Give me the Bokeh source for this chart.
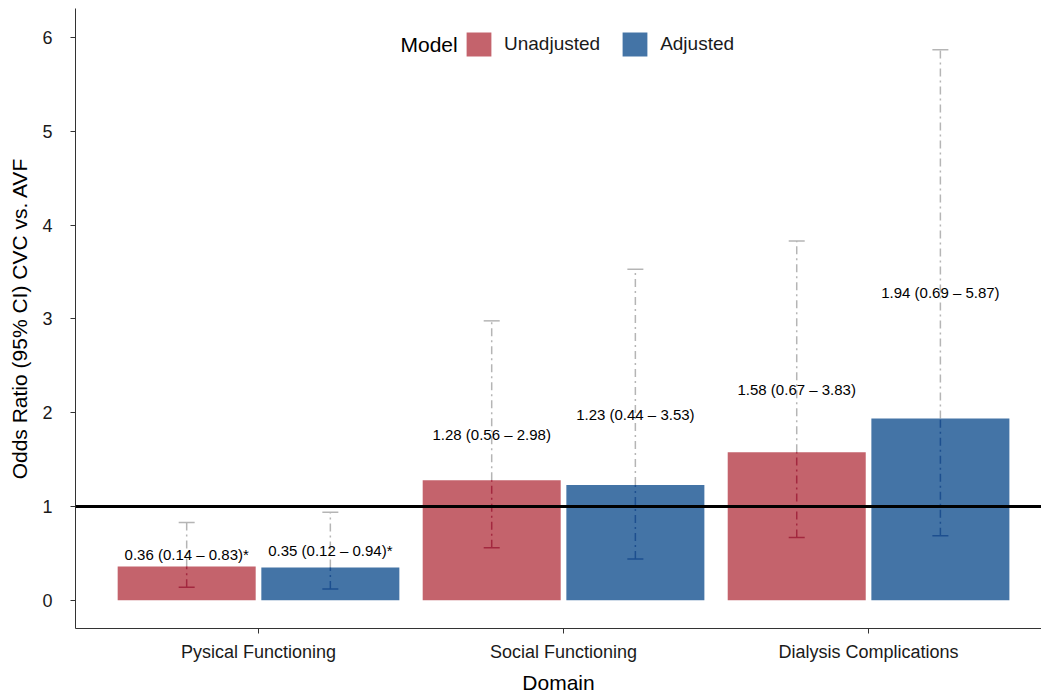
from bokeh.plotting import figure
from bokeh.models import (ColumnDataSource, Range1d, FixedTicker, Span,
                          Whisker, TeeHead, Legend, LegendItem, Label)
from bokeh.core.properties import value
from bokeh.embed import file_html
from bokeh.resources import INLINE

# ---- data ----
domains = ["Pysical Functioning", "Social Functioning", "Dialysis Complications"]
unadj_or = [0.36, 1.28, 1.58]
unadj_lo = [0.14, 0.56, 0.67]
unadj_hi = [0.83, 2.98, 3.83]
adj_or = [0.35, 1.23, 1.94]
adj_lo = [0.12, 0.44, 0.69]
adj_hi = [0.94, 3.53, 5.87]
y_ticks = [0, 1, 2, 3, 4, 5, 6]

FONT = "Liberation Sans"
RED, BLUE = "#c4636c", "#4474a6"
RED_D, BLUE_D = "#a3283f", "#1d4f8f"
GRAY = "#b5b5b5"
OFF, BW = 0.2355, 0.4525
DASH = "8 4 2 4"

xpos = list(range(1, len(domains) + 1))


def make_src(orv, lo, hi, off):
    labels = [f"{o:.2f} ({l:.2f} \u2013 {h:.2f})" + ("*" if h < 1 else "")
              for o, l, h in zip(orv, lo, hi)]
    return ColumnDataSource(dict(
        x=[x + off for x in xpos], orv=orv, lo=lo, hi=hi,
        top_part=[max(o, l) for o, l in zip(orv, lo)],
        bot_part=[min(o, h) for o, h in zip(orv, hi)],
        mid=[(l + h) / 2 for l, h in zip(lo, hi)],
        label=labels))


src_u = make_src(unadj_or, unadj_lo, unadj_hi, -OFF)
src_a = make_src(adj_or, adj_lo, adj_hi, OFF)

p = figure(width=1041, height=696, output_backend="svg", toolbar_location=None,
           x_range=Range1d(0.4, 3.567), y_range=Range1d(-0.30, 6.31),
           min_border_left=75, min_border_right=0, min_border_top=8, min_border_bottom=68)
p.outline_line_color = None
p.xgrid.visible = False
p.ygrid.visible = False
p.background_fill_color = "white"

r_u = p.vbar(x="x", top="orv", bottom=0, width=BW, source=src_u,
             fill_color=RED, line_color=None)
r_a = p.vbar(x="x", top="orv", bottom=0, width=BW, source=src_a,
             fill_color=BLUE, line_color=None)

for src, dark in [(src_u, RED_D), (src_a, BLUE_D)]:
    # part of the CI inside the bar
    p.add_layout(Whisker(source=src, base="x", lower="lo", upper="bot_part",
                         line_color=dark, line_width=1.5, line_dash=DASH,
                         upper_head=None, level="overlay",
                         lower_head=TeeHead(size=16, line_color=dark, line_width=1.5)))
    # part of the CI above the bar
    p.add_layout(Whisker(source=src, base="x", lower="top_part", upper="hi",
                         line_color=GRAY, line_width=1.5, line_dash=DASH,
                         lower_head=None, level="underlay",
                         upper_head=TeeHead(size=16, line_color=GRAY, line_width=1.5)))

p.add_layout(Span(location=1, dimension="width", line_color="black", line_width=3,
                  level="overlay"))

for src in (src_u, src_a):
    p.text(x="x", y="mid", text="label", source=src,
           text_font=value(FONT), text_font_size="15px", text_color="black",
           text_align="center", text_baseline="middle")

# axes
for ax in (p.xaxis[0], p.yaxis[0]):
    ax.axis_line_color = "#333333"
    ax.axis_line_width = 1
    ax.major_tick_line_color = "#333333"
    ax.major_tick_out = 5
    ax.major_tick_in = 0
    ax.minor_tick_line_color = None
    ax.major_label_text_font = FONT
    ax.major_label_text_font_size = "18px"
    ax.major_label_text_color = "#1a1a1a"
    ax.axis_label_text_font = FONT
    ax.axis_label_text_font_size = "21px"
    ax.axis_label_text_font_style = "normal"
    ax.axis_label_text_color = "black"

p.yaxis.ticker = FixedTicker(ticks=y_ticks)
p.yaxis.axis_label = "Odds Ratio (95% CI) CVC vs. AVF"
p.yaxis.major_label_standoff = 18
p.yaxis.axis_label_standoff = 8
p.xaxis.ticker = FixedTicker(ticks=xpos)
p.xaxis.major_label_overrides = {x: d for x, d in zip(xpos, domains)}
p.xaxis.axis_label = "Domain"
p.xaxis.major_label_standoff = 8
p.xaxis.axis_label_standoff = 6

legend = Legend(items=[LegendItem(label="Unadjusted", renderers=[r_u]),
                       LegendItem(label="Adjusted", renderers=[r_a])],
                orientation="horizontal", location=(388, 569),
                glyph_width=31, glyph_height=30, label_standoff=10, spacing=19,
                padding=0, margin=0, border_line_color=None, background_fill_alpha=0,
                label_text_font=FONT, label_text_font_size="19px", label_text_color="#1a1a1a")
p.add_layout(legend)
p.add_layout(Label(x=325, y=584, x_units="screen", y_units="screen", text="Model",
                   text_font=FONT, text_font_size="21px", text_color="black",
                   text_baseline="middle", text_align="left"))

open("out.html", "w").write(file_html(p, INLINE))
